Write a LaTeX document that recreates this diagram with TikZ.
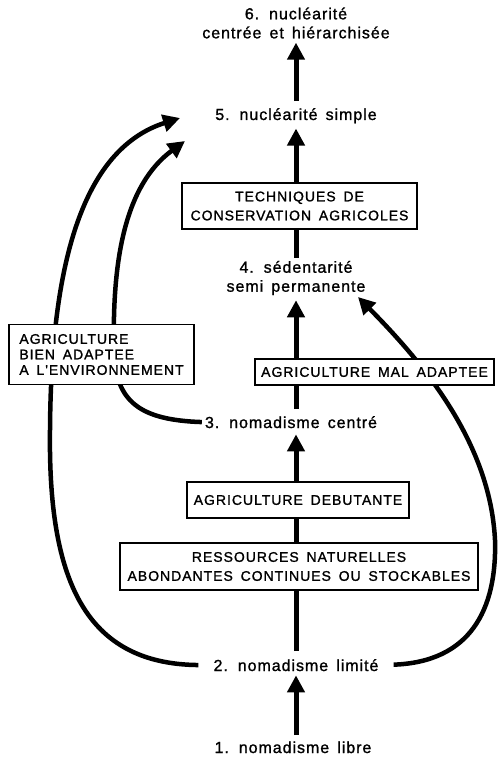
\documentclass[tikz,border=0pt]{standalone}
\usepackage{fontspec}
\setmainfont{Liberation Sans}[LetterSpace=6, WordSpace=1.5, FakeBold=1.2]
\newfontfamily\capsf{Liberation Sans}[LetterSpace=7, WordSpace=1.6, FakeBold=1.2]
\usetikzlibrary{arrows.meta,backgrounds}
\begin{document}
\begin{tikzpicture}[x=1pt,y=-1pt,
  lab/.style={inner sep=0pt, align=center, font=\fontsize{16}{19}\selectfont},
  labbase/.style={lab, anchor=base},
  capbox/.style={draw, line width=1.5pt, fill=white, inner sep=0pt, align=center,
     font=\capsf\fontsize{14}{19}\selectfont},
  shaft/.style={line width=5pt},
  bigarrow/.style={line width=5pt, -{Triangle[length=17pt,width=17pt]}},
  curvearrow/.style={line width=4.5pt, -{Triangle[length=17pt,width=17pt]}}]
\useasboundingbox (0,0) rectangle (500,759);
\coordinate (ax) at (296,0);
% labels
\node[lab] (n6) at (296,23) {6. nucléarité\\centrée et hiérarchisée};
\node[labbase] (n5) at (296,120) {5. nucléarité simple};
\node[lab] (n4) at (296,278) {4. sédentarité\\semi permanente};
\node[labbase] (n3) at (291,428) {3. nomadisme centré};
\node[labbase] (n2) at (296,671) {2. nomadisme limité};
\node[labbase] (n1) at (293,753) {1. nomadisme libre};
% boxes
\node[capbox, minimum width=235pt, minimum height=46pt] (tech) at (299.5,206) {TECHNIQUES DE\\CONSERVATION AGRICOLES};
\node[capbox, minimum width=239pt, minimum height=26pt] (mal) at (374.5,372) {AGRICULTURE MAL ADAPTEE};
\node[capbox, minimum width=222pt, minimum height=36pt] (deb) at (298,500) {AGRICULTURE DEBUTANTE};
\node[capbox, minimum width=358pt, minimum height=47pt] (res) at (299,566.5) {RESSOURCES NATURELLES\\ABONDANTES CONTINUES OU STOCKABLES};
\node[capbox, minimum width=185pt, minimum height=60pt, align=left,
      font=\capsf\fontsize{14}{15.5}\selectfont] (bien) at (101.5,354.5) {AGRICULTURE\\BIEN ADAPTEE\\A L'ENVIRONNEMENT};
% free ends
\coordinate (t5a) at (180,118);
\coordinate (t5b) at (185,141);
\coordinate (t4) at (358,297);
\begin{pgfonlayer}{background}
% vertical axis
\draw[bigarrow, shorten <=6pt, shorten >=4pt] (n1.north -| ax) -- (n2.south -| ax);
\draw[shaft, shorten <=8pt] (n2.north -| ax) -- (res.south -| ax);
\draw[shaft] (res.north -| ax) -- (deb.south -| ax);
\draw[bigarrow, shorten >=6pt] (deb.north -| ax) -- (n3.south -| ax);
\draw[shaft, shorten <=7pt] (n3.north -| ax) -- (mal.south -| ax);
\draw[bigarrow, shorten >=5pt] (mal.north -| ax) -- (n4.south -| ax);
\draw[shaft, shorten <=3pt] (n4.north -| ax) -- (tech.south -| ax);
\draw[bigarrow, shorten >=5pt] (tech.north -| ax) -- (n5.south -| ax);
\draw[bigarrow, shorten <=7pt, shorten >=4pt] (n5.north -| ax) -- (n6.south -| ax);
% curves
\draw[curvearrow, shorten <=15pt] (n2.west) .. controls (85,664) and (48,580) .. (50,430)
   .. controls (51,270) and (80,150) .. (t5a);
\draw[curvearrow, shorten <=3pt] (n3.west) .. controls (140,420) and (115,402) .. (114,350)
   .. controls (112,260) and (125,185) .. (t5b);
\draw[curvearrow, shorten <=15pt] (n2.east) .. controls (470,662) and (497,610) .. (495,540)
   .. controls (490,440) and (420,360) .. (t4);
\end{pgfonlayer}
\end{tikzpicture}
\end{document}
